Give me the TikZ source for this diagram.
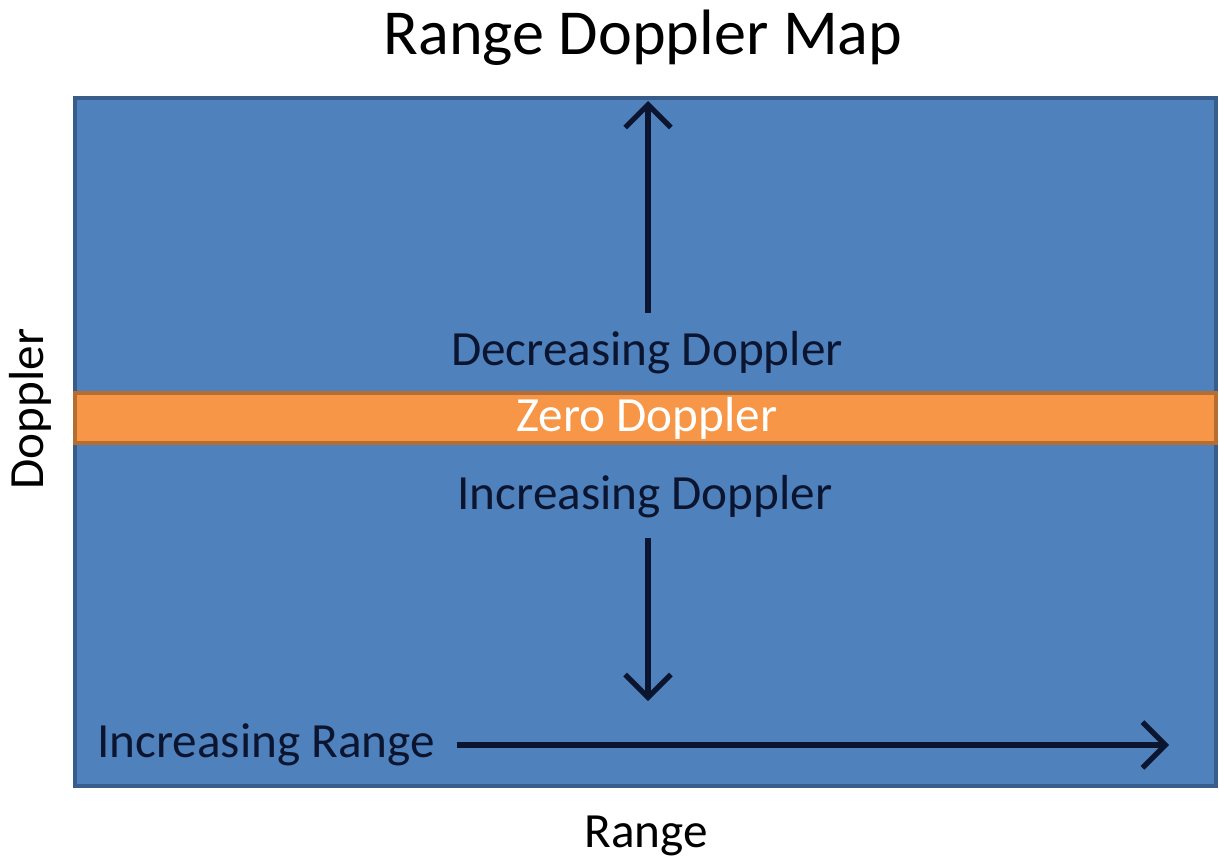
\documentclass[tikz,border=0pt]{standalone}
\usepackage{fontspec}
\setmainfont{Carlito}
\usetikzlibrary{arrows.meta}
\definecolor{mapblue}{HTML}{4F81BD}
\definecolor{mapedge}{HTML}{385D8A}
\definecolor{zerofill}{HTML}{F79646}
\definecolor{zeroedge}{HTML}{B66D31}
\definecolor{labelink}{HTML}{0B1530}
\tikzset{
  maplabel/.style={font=\fontsize{28}{32}\selectfont, text=labelink, inner sep=2pt},
  axislabel/.style={font=\fontsize{28}{32}\selectfont, text=black, inner sep=0pt},
  maparrow/.style={line width=3pt, draw=labelink, -{Straight Barb[length=13pt,width=26pt,line width=3pt]}}
}
\begin{document}
\begin{tikzpicture}[x=0.02cm,y=-0.02cm]
					\useasboundingbox (0,0) rectangle (1219,863);
					\fill[white] (0,0) rectangle (1219,863);
					\draw[fill=mapblue, draw=mapedge, line width=2.4pt] (75,98) rectangle (1216,786);
					\draw[fill=zerofill, draw=zeroedge, line width=2.4pt] (75,393) rectangle (1216,443);
					
					\path (643,38) node[font=\fontsize{36.5}{40}\selectfont, inner sep=0pt] (title) {Range Doppler Map};
					\path (646,836) node[axislabel] (rangeaxis) {Range};
					\path (30,409) node[axislabel, rotate=90] (dopaxis) {Doppler};
					
					\path (647,353) node[maplabel] (decdop) {Decreasing Doppler};
					\path (647,418) node[maplabel, text=white] (zerodop) {Zero Doppler};
					\path (645,497) node[maplabel] (incdop) {Increasing Doppler};
					\path (266,745) node[maplabel] (incrange) {Increasing Range};
					
					\coordinate (uptip) at (648,101);
					\coordinate (downtip) at (648,701);
					\coordinate (righttip) at (1169,745);
					
					\draw[maparrow] (decdop.north -| uptip) ++(0,-15) -- (uptip);
					\draw[maparrow] (incdop.south -| downtip) ++(0,16) -- (downtip);
					\draw[maparrow] (incrange.east) ++(18,0) -- (righttip);
					\end{tikzpicture}
\end{document}
